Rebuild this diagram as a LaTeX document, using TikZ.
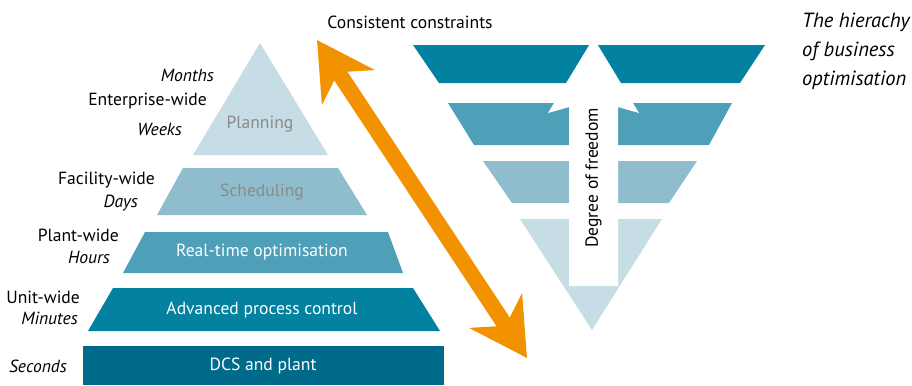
\documentclass[tikz,border=0pt]{standalone}
\usepackage{fontspec}
\setmainfont{PT Sans}
\usetikzlibrary{arrows.meta}

\definecolor{levelA}{HTML}{C6DDE6}
\definecolor{levelB}{HTML}{8FBDCE}
\definecolor{levelC}{HTML}{4E9FB8}
\definecolor{levelD}{HTML}{0281A0}
\definecolor{levelE}{HTML}{006A8A}
\definecolor{arrowor}{HTML}{F39200}
\definecolor{greytext}{HTML}{8A8A8A}

\begin{document}
\begin{tikzpicture}[x=0.03cm, y=-0.03cm,
                    txt/.style = {font=\fontsize{15}{18}\selectfont},
                    layer/.style = {txt, white},
                    faded/.style = {txt, text=greytext},
                    scope/.style = {txt, anchor=east},
                    period/.style = {txt, anchor=east, font=\fontsize{15}{18}\selectfont\itshape},
                    heading/.style = {anchor=base west, inner sep=0pt, font=\fontsize{17.5}{22}\selectfont\itshape}]

\useasboundingbox (0,0) rectangle (912,385);

% pyramid of layers
\fill[levelA] (260,43) -- (328,155) -- (193,155) -- cycle;
\fill[levelB] (183,168) -- (338,168) -- (367,215) -- (157,215) -- cycle;
\fill[levelC] (145,232) -- (388,232) -- (403,273) -- (123,273) -- cycle;
\fill[levelD] (113,288) -- (413,288) -- (440,331) -- (88,331) -- cycle;
\fill[levelE] (83,346) rectangle (444,385);

\node[faded] (plan) at (260,124) {Planning};
\node[faded] (sched) at (262,192) {Scheduling};
\node[layer] (rto) at (262,252) {Real-time optimisation};
\node[layer] (apc) at (262,310) {Advanced process control};
\node[layer] (dcs) at (263,366) {DCS and plant};

% scope of each layer
\node[scope] (ent) at (211,101) {Enterprise-wide};
\node[scope] (fac) at (159,180) {Facility-wide};
\node[scope] (plw) at (123,235) {Plant-wide};
\node[scope] (unw) at (84,297) {Unit-wide};

% time scale
\node[period] (mon) at (218,75) {Months};
\node[period] (wks) at (186,129) {Weeks};
\node[period] (day) at (142,203) {Days};
\node[period] (hrs) at (114,257) {Hours};
\node[period] (min) at (82,318) {Minutes};
\node[period] (sec) at (71,366) {Seconds};

% double arrow
\node[txt] (cons) at (410,22) {Consistent constraints};
\coordinate (top) at (317,40);
\coordinate (bot) at (527,358);
\draw[arrowor, line width=13.5pt,
      {Stealth[length=48pt, width=53pt, inset=15pt]}-{Stealth[length=48pt, width=53pt, inset=15pt]}]
      (top) -- (bot);

% inverted pyramid
\fill[levelD] (413,45) -- (765,45) -- (740,83) -- (439,83) -- cycle;
\fill[levelC] (448,103) -- (732,103) -- (709,145) -- (474,145) -- cycle;
\fill[levelB] (483,161) -- (697,161) -- (669,203) -- (512,203) -- cycle;
\fill[levelA] (520,219) -- (662,219) -- (592,330) -- cycle;

% arrow cut out of it
\fill[white] (593.5,38) -- (548,113) -- (569,107) -- (569,286) -- (618,286)
             -- (618,107) -- (639,113) -- cycle;
\node[txt, rotate=90] (dof) at (593.5,178) {Degree of freedom};

% title
\node[heading] (title1) at (802,27) {The hierachy};
\node[heading] (title2) at (802,56) {of business};
\node[heading] (title3) at (802,85) {optimisation};

\end{tikzpicture}
\end{document}
